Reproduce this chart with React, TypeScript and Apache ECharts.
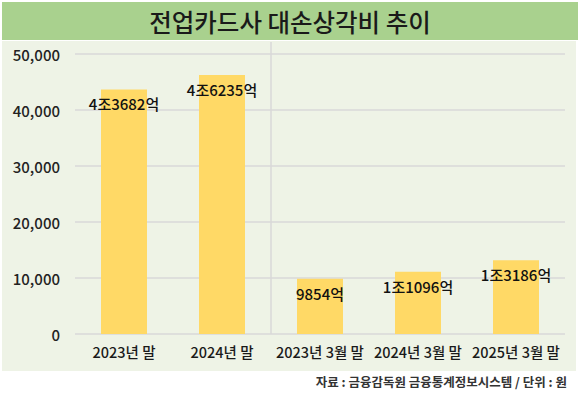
import React, { useEffect, useRef } from "react";
import * as echarts from "echarts";

const categories = ["2023년 말", "2024년 말", "2023년 3월 말", "2024년 3월 말", "2025년 3월 말"];
const values = [43682, 46235, 9854, 11096, 13186];
const valueLabels = ["4조3682억", "4조6235억", "9854억", "1조1096억", "1조3186억"];
const titleText = "전업카드사 대손상각비 추이";
const sourceText = "자료 : 금융감독원 금융통계정보시스템 / 단위 : 원";

const FONT = "'Noto Sans CJK KR', 'Noto Sans', sans-serif";

export default function App() {
  const ref = useRef<HTMLDivElement>(null);
  useEffect(() => {
    document.body.style.margin = "0";
    if (!ref.current) return;
    const chart = echarts.init(ref.current, null, { renderer: "svg" });
    const option: any = {
      animation: false,
      backgroundColor: "#ffffff",
      textStyle: { fontFamily: FONT },
      grid: { left: 75, right: 15, top: 54, bottom: 62 },
      xAxis: {
        type: "category",
        data: categories,
        axisLine: { show: false },
        axisTick: { show: false },
        axisLabel: { color: "#1a1a1a", fontSize: 14.5, margin: 10, fontFamily: FONT, fontWeight: 500, interval: 0 },
      },
      yAxis: {
        type: "value",
        min: 0,
        max: 50000,
        interval: 10000,
        axisLine: { show: false },
        axisTick: { show: false },
        axisLabel: {
          color: "#222",
          fontSize: 15,
          margin: 15,
          fontFamily: FONT,
          fontWeight: 500,
          formatter: (v: number) => v.toLocaleString("en-US"),
        },
        splitLine: { lineStyle: { color: "#d9d9d9", width: 1.5 } },
      },
      graphic: [
        { type: "rect", z: -10, shape: { x: 2, y: 2, width: 576, height: 38 }, style: { fill: "#a9d18e" } },
        { type: "rect", z: -10, shape: { x: 2, y: 41, width: 574, height: 330 }, style: { fill: "#eef3e6" } },
        {
          type: "text",
          x: 290,
          y: 21,
          style: {
            text: titleText,
            fill: "#1a1a1a",
            font: `500 24.5px ${FONT}`,
            textAlign: "center",
            textVerticalAlign: "middle",
          },
        },
        {
          type: "text",
          x: 567,
          y: 381,
          style: {
            text: sourceText,
            fill: "#333",
            font: `bold 12.5px ${FONT}`,
            textAlign: "right",
            textVerticalAlign: "middle",
          },
        },
      ],
      series: [
        {
          type: "bar",
          data: values,
          barWidth: 46,
          itemStyle: { color: "#ffd966" },
          label: {
            show: true,
            position: "insideTop",
            distance: 7,
            color: "#111",
            fontSize: 15,
            fontWeight: 500,
            fontFamily: FONT,
            formatter: (p: any) => valueLabels[p.dataIndex],
          },
        },
      ],
    };
    chart.setOption(option);
    const p1 = chart.convertToPixel({ xAxisIndex: 0 }, 1) as number;
    const p2 = chart.convertToPixel({ xAxisIndex: 0 }, 2) as number;
    const y0 = chart.convertToPixel({ yAxisIndex: 0 }, 0) as number;
    const xm = (p1 + p2) / 2;
    chart.setOption({
      graphic: [
        ...option.graphic,
        {
          type: "line",
          z: 1,
          shape: { x1: xm, y1: 42, x2: xm, y2: y0 },
          style: { stroke: "#d9d9d9", lineWidth: 1.5 },
        },
      ],
    });
    return () => chart.dispose();
  }, []);
  return <div ref={ref} style={{ width: 580, height: 396 }} />;
}
